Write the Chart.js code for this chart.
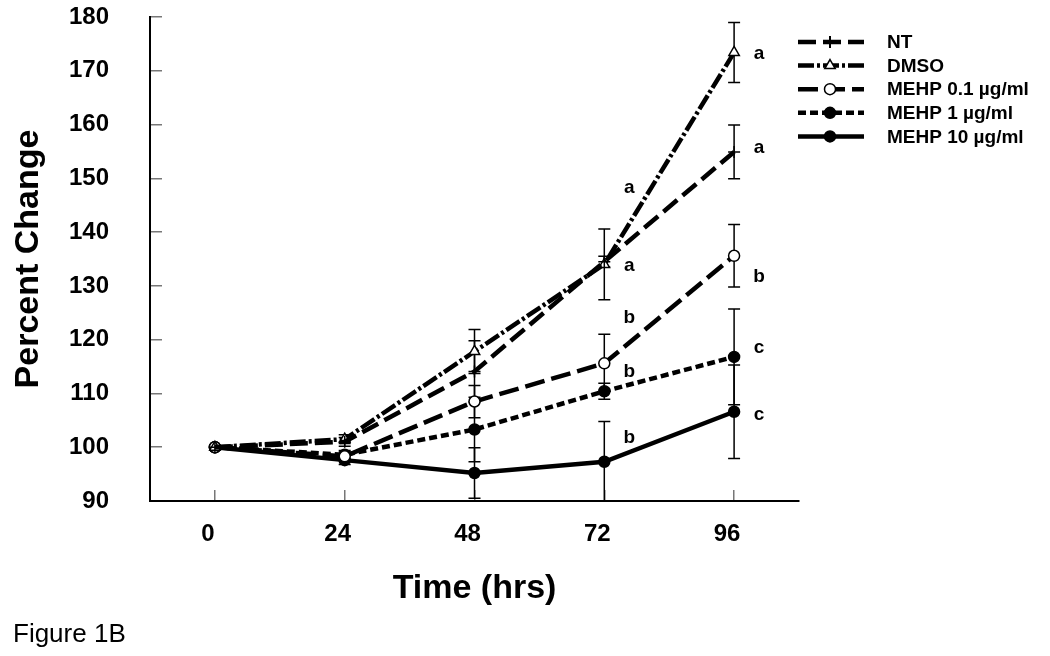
<!DOCTYPE html>
<html>
<head>
<meta charset="utf-8">
<script src="https://cdn.jsdelivr.net/npm/chart.js"></script>
<style>
  html, body { margin: 0; padding: 0; background: #fff; }
  canvas { display: block; }
</style>
</head>
<body>
<canvas id="grafico" width="1050" height="656"></canvas>
<script>
// Horas y valores
const horas = [0, 24, 48, 72, 96];
const yTicks = [90, 100, 110, 120, 130, 140, 150, 160, 170, 180];

const ntValores = [100, 101.0, 114.1, 134.5, 154.9];
const ntError = [0, 0.8, 5.7, 1.0, 5.0];
const dmsoValores = [100, 101.5, 117.8, 134.0, 173.4];
const dmsoError = [0, 0.8, 4.1, 6.6, 5.6];
const mehp01Valores = [100, 98.3, 108.5, 115.6, 135.6];
const mehp01Error = [0, 0.8, 3.0, 5.4, 5.8];
const mehp1Valores = [100, 98.6, 103.3, 110.4, 116.8];
const mehp1Error = [0, 0.8, 6.0, 1.5, 8.9];
const mehp10Valores = [100, 97.6, 95.2, 97.3, 106.6];
const mehp10Error = [0, 0.8, 4.7, 7.5, 8.7];

// Letras de significancia (hora de referencia y valor en el eje y)
const letras = ['a', 'a', 'b', 'b', 'b', 'a', 'a', 'b', 'c', 'c'];
const letrasHora = [72, 72, 72, 72, 72, 96, 96, 96, 96, 96];
const letrasValor = [148.3, 133.8, 124.1, 114.0, 101.7, 173.1, 155.7, 131.7, 118.5, 106.0];

const FUENTE = '"Liberation Sans", Arial, sans-serif';

function puntos(valores) {
  return horas.map((h, i) => ({ x: h, y: valores[i] }));
}

const conjuntos = [
  { label: 'NT', data: puntos(ntValores), errores: ntError,
    borderDash: [18, 7], pointStyle: 'cross', pointRadius: 6, pointBackgroundColor: '#000' },
  { label: 'DMSO', data: puntos(dmsoValores), errores: dmsoError,
    borderDash: [16, 3, 3, 3], pointStyle: 'triangle', pointRadius: 6, pointBackgroundColor: '#fff' },
  { label: 'MEHP 0.1 µg/ml', data: puntos(mehp01Valores), errores: mehp01Error,
    borderDash: [20, 7], pointStyle: 'circle', pointRadius: 5.5, pointBackgroundColor: '#fff' },
  { label: 'MEHP 1 µg/ml', data: puntos(mehp1Valores), errores: mehp1Error,
    borderDash: [8, 4], pointStyle: 'circle', pointRadius: 5.5, pointBackgroundColor: '#000' },
  { label: 'MEHP 10 µg/ml', data: puntos(mehp10Valores), errores: mehp10Error,
    borderDash: [], pointStyle: 'circle', pointRadius: 5.5, pointBackgroundColor: '#000' }
].map(d => Object.assign({
  borderColor: '#000',
  backgroundColor: '#000',
  borderWidth: 4.5,
  pointBorderColor: '#000',
  pointBorderWidth: 1.5,
  fill: false,
  tension: 0
}, d));

// Barras de error detras de las lineas
const barrasError = {
  id: 'barrasError',
  beforeDatasetsDraw(chart) {
    const { ctx, chartArea, scales: { x, y } } = chart;
    ctx.save();
    ctx.beginPath();
    ctx.rect(chartArea.left, chartArea.top, chartArea.right - chartArea.left, chartArea.bottom - chartArea.top);
    ctx.clip();
    ctx.strokeStyle = '#000';
    ctx.lineWidth = 1.5;
    chart.data.datasets.forEach(ds => {
      ds.data.forEach((p, i) => {
        const e = ds.errores[i];
        if (!e) return;
        const px = x.getPixelForValue(p.x);
        const y1 = y.getPixelForValue(p.y + e);
        const y2 = y.getPixelForValue(p.y - e);
        ctx.beginPath();
        ctx.moveTo(px, y1); ctx.lineTo(px, y2);
        ctx.moveTo(px - 6, y1); ctx.lineTo(px + 6, y1);
        ctx.moveTo(px - 6, y2); ctx.lineTo(px + 6, y2);
        ctx.stroke();
      });
    });
    ctx.restore();
  }
};

// Letras, leyenda y pie de figura
const extras = {
  id: 'extras',
  afterDraw(chart) {
    const { ctx, scales: { x, y } } = chart;
    ctx.save();
    ctx.fillStyle = '#000';
    ctx.font = 'bold 19px ' + FUENTE;
    ctx.textAlign = 'center';
    ctx.textBaseline = 'middle';
    letras.forEach((l, i) => {
      ctx.fillText(l, x.getPixelForValue(letrasHora[i]) + 25, y.getPixelForValue(letrasValor[i]));
    });

    // leyenda
    chart.data.datasets.forEach((ds, i) => {
      const fy = 42 + i * 23.6;
      ctx.save();
      ctx.strokeStyle = '#000';
      ctx.lineWidth = 4.5;
      ctx.setLineDash(ds.borderDash);
      ctx.beginPath();
      ctx.moveTo(798, fy); ctx.lineTo(864, fy);
      ctx.stroke();
      ctx.setLineDash([]);
      ctx.fillStyle = ds.pointBackgroundColor;
      ctx.strokeStyle = '#000';
      ctx.lineWidth = ds.pointStyle === 'cross' ? 2 : 1.5;
      Chart.helpers.drawPoint(ctx, { pointStyle: ds.pointStyle, radius: ds.pointRadius, borderWidth: ctx.lineWidth, rotation: 0 }, 830, fy);
      ctx.restore();
      ctx.font = 'bold 19px ' + FUENTE;
      ctx.textAlign = 'left';
      ctx.textBaseline = 'middle';
      ctx.fillText(ds.label, 887, fy + 1);
    });

    ctx.font = '26px ' + FUENTE;
    ctx.textAlign = 'left';
    ctx.textBaseline = 'alphabetic';
    ctx.fillText('Figure 1B', 13, 642);
    ctx.restore();
  }
};

const fuenteTicks = { family: FUENTE, size: 24, weight: 'bold' };
const fuenteTitulo = { family: FUENTE, size: 34, weight: 'bold' };

new Chart(document.getElementById('grafico'), {
  type: 'line',
  data: { datasets: conjuntos },
  options: {
    responsive: false,
    animation: false,
    layout: { padding: { top: 17, right: 251, left: 0, bottom: 0 } },
    plugins: { legend: { display: false }, tooltip: { enabled: false } },
    scales: {
      x: {
        type: 'linear',
        min: -12,
        max: 108,
        afterBuildTicks: s => { s.ticks = horas.map(v => ({ value: v })); },
        afterFit: s => { s.height = 155; s.paddingLeft = 0; s.paddingRight = 0; },
        grid: { drawOnChartArea: false, tickLength: -11, color: '#777', lineWidth: 1.5 },
        border: { color: '#000', width: 2 },
        ticks: { padding: 30, labelOffset: -7, color: '#000', font: fuenteTicks },
        title: { display: true, text: 'Time (hrs)', color: '#000', font: fuenteTitulo, padding: { top: 0, bottom: 47 } }
      },
      y: {
        min: 90,
        max: 180,
        afterBuildTicks: s => { s.ticks = yTicks.map(v => ({ value: v })); },
        afterFit: s => { s.width = 150; s.paddingTop = 0; s.paddingBottom = 0; },
        grid: { drawOnChartArea: false, tickLength: -12, color: '#777', lineWidth: 1.5 },
        border: { color: '#000', width: 2 },
        ticks: { padding: 53, color: '#000', font: fuenteTicks },
        title: { display: true, text: 'Percent Change', color: '#000', font: fuenteTitulo, padding: { top: 8, bottom: 0 } }
      }
    }
  },
  plugins: [barrasError, extras]
});
</script>
</body>
</html>
